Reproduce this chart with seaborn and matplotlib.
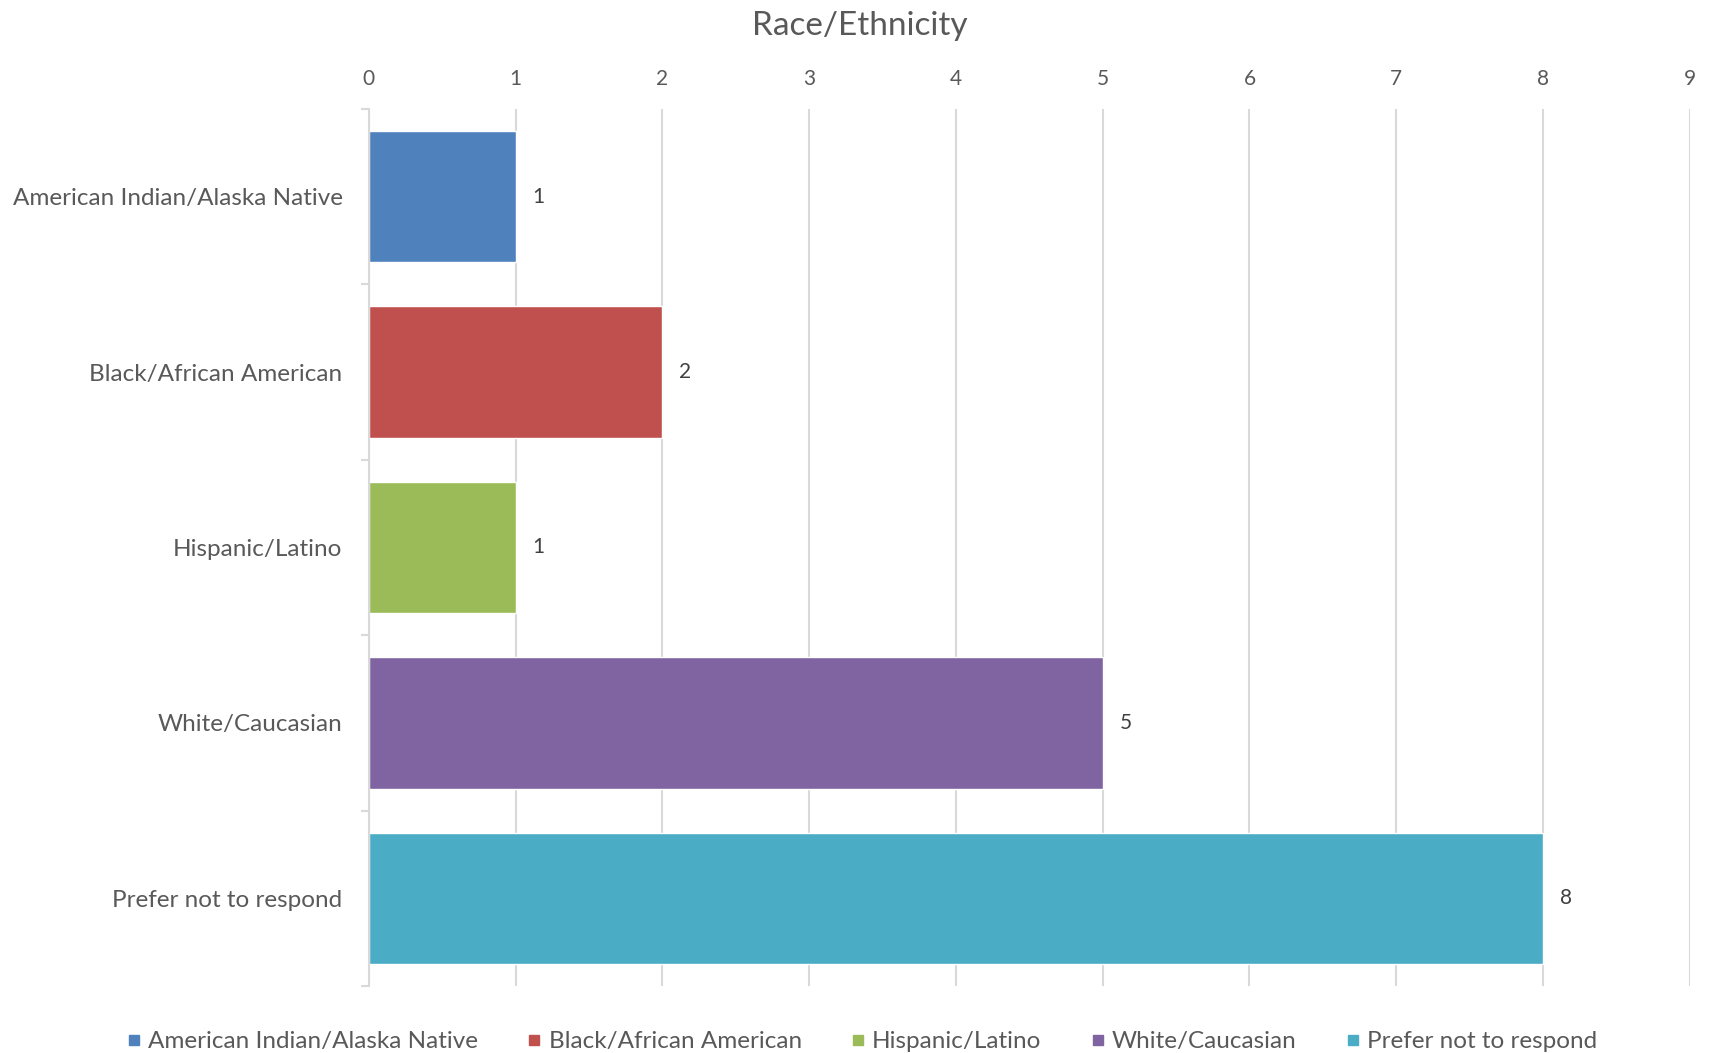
import pandas as pd
import matplotlib.pyplot as plt
import seaborn as sns
from matplotlib.lines import Line2D

categories = [
    "American Indian/Alaska Native",
    "Black/African American",
    "Hispanic/Latino",
    "White/Caucasian",
    "Prefer not to respond",
]
counts = [1, 2, 1, 5, 8]
colors = ["#4F81BD", "#C0504D", "#9BBB59", "#8064A2", "#4BACC6"]
x_ticks = list(range(0, 10))

df = pd.DataFrame({"category": categories, "count": counts})

sns.set_style("white")
plt.rcParams["font.family"] = ["Lato", "DejaVu Sans"]
text_color = "#595959"
grid_color = "#D9D9D9"

fig = plt.figure(figsize=(17.12, 10.53), dpi=100)
ax = fig.add_axes([0.2155, 0.0636, 0.7715, 0.833])

sns.barplot(
    data=df,
    x="count",
    y="category",
    hue="category",
    palette=colors,
    saturation=1,
    orient="h",
    width=0.75,
    dodge=False,
    legend=False,
    edgecolor="white",
    linewidth=1,
    ax=ax,
)

ax.set_xlim(0, 9)
ax.set_ylim(len(categories) - 0.5, -0.5)
ax.set_xticks(x_ticks)
ax.xaxis.tick_top()
ax.tick_params(axis="x", length=0, pad=14, labelsize=15, labelcolor=text_color)
ax.tick_params(axis="y", which="major", length=0, pad=19, labelsize=17.5, labelcolor=text_color)
ax.set_yticks([i + 0.5 for i in range(-1, len(categories))], minor=True)
ax.tick_params(axis="y", which="minor", left=True, length=6, width=1.5, color=grid_color)

ax.set_axisbelow(True)
ax.xaxis.grid(True, color=grid_color, linewidth=1.5)
for s in ["top", "right", "bottom"]:
    ax.spines[s].set_visible(False)
ax.spines["left"].set_color(grid_color)
ax.spines["left"].set_linewidth(1.5)

ax.set_xlabel("")
ax.set_ylabel("")

for i, v in enumerate(counts):
    ax.annotate(str(v), (v, i), xytext=(12, 0), textcoords="offset points",
                va="center", ha="left", fontsize=15, color="#404040")

fig.suptitle("Race/Ethnicity", y=0.99, x=0.502, fontsize=24, color=text_color)

handles = [Line2D([0], [0], marker="s", linestyle="", markersize=7,
                  markerfacecolor=c, markeredgecolor=c) for c in colors]
fig.legend(handles, categories, loc="lower center", bbox_to_anchor=(0.502, -0.02),
           ncol=5, frameon=False, fontsize=17.5, labelcolor=text_color,
           handletextpad=0.1, columnspacing=1.8, handlelength=1.0)

fig.savefig("out.png", dpi=100)
